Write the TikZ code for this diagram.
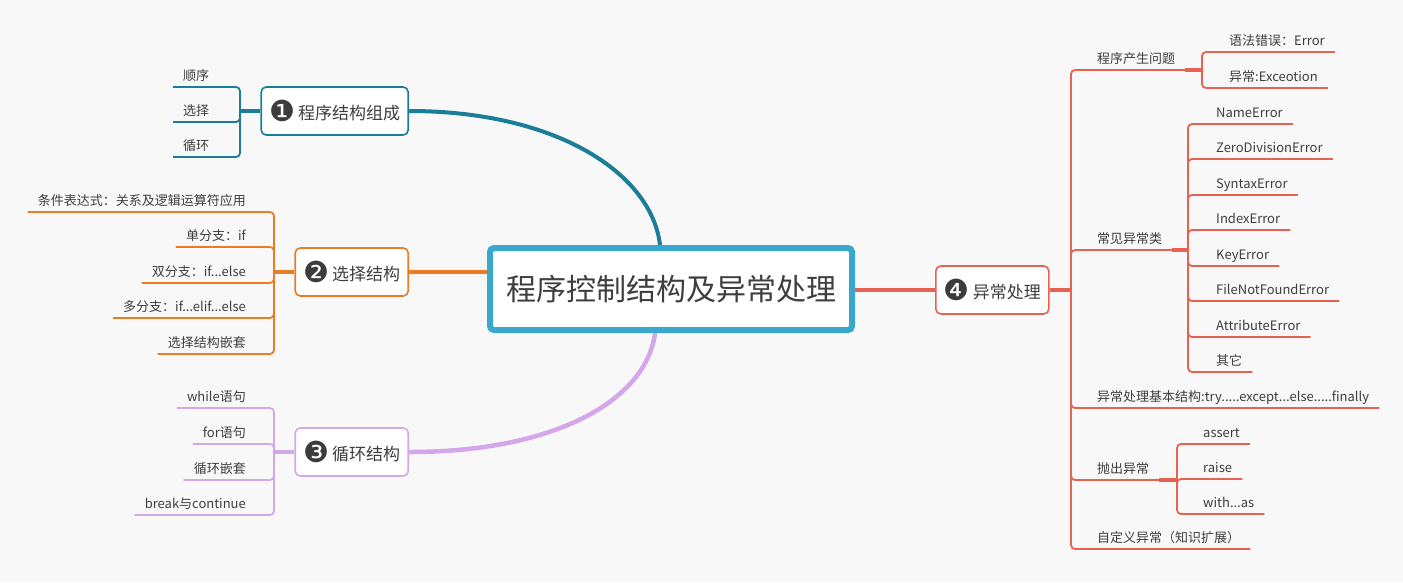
\documentclass[tikz,border=0pt]{standalone}
\usepackage{fontspec}
\setmainfont{Noto Sans CJK SC}
\newfontfamily\numfont{DejaVu Sans}
\usepackage{tikz}
\usetikzlibrary{positioning, backgrounds, calc}
\definecolor{bgGray}{RGB}{248,248,248}
\definecolor{rootBlue}{RGB}{58,168,204}
\definecolor{tealColor}{RGB}{27,126,152}
\definecolor{orangeColor}{RGB}{234,124,36}
\definecolor{purpleColor}{RGB}{212,166,234}
\definecolor{redColor}{RGB}{232,98,82}
\definecolor{textGray}{RGB}{62,62,62}
\definecolor{badgeGray}{RGB}{60,60,60}
\newcommand{\badge}[1]{{\numfont\fontsize{29}{29}\selectfont\textcolor{badgeGray}{\raisebox{-2.5pt}{#1}}}\hspace{3pt}}

\begin{document}
\begin{tikzpicture}[
        x=1pt, y=-1pt,
        root/.style={
            rectangle,
            rounded corners=4pt,
            draw=rootBlue,
            line width=6pt,
            fill=white,
            minimum width=362pt,
            minimum height=82pt,
            font=\fontsize{30}{36}\selectfont,
            text=textGray
        },
        topic/.style={
            rectangle,
            rounded corners=5pt,
            line width=1.6pt,
            fill=white,
            minimum height=48pt,
            inner xsep=8pt,
            font=\fontsize{17}{20}\selectfont,
            text=textGray
        },
        leaf/.style={
            inner xsep=10pt,
            inner ysep=3.5pt,
            text height=10pt,
            text depth=3pt,
            font=\fontsize{13}{15}\selectfont,
            text=textGray
        },
        branch/.style={
            line width=1.8pt,
            rounded corners=4pt
        },
        stem/.style={
            line width=3.5pt
        },
        trunk/.style={
            line width=4.5pt
        }
    ]
    \useasboundingbox (0,0) rectangle (1403,582);
    \begin{pgfonlayer}{background}
        \fill[bgGray] (0,0) rectangle (1403,582);
    \end{pgfonlayer}

    \node[root] (root) at (671,289) {程序控制结构及异常处理};

    \node[topic, draw=tealColor, anchor=east] (t1) at (409,111) {\badge{❶}程序结构组成};
    \node[topic, draw=orangeColor, anchor=east] (t2) at (409,272) {\badge{❷}选择结构};
    \node[topic, draw=purpleColor, anchor=east] (t3) at (409,452) {\badge{❸}循环结构};
    \node[topic, draw=redColor, anchor=west] (t4) at (935,290) {\badge{❹}异常处理};

    % topic 1
    \node[leaf, anchor=south west] (l11) at (173,87) {顺序};
    \node[leaf, anchor=south west] (l12) at (173,122) {选择};
    \node[leaf, anchor=south west] (l13) at (173,157) {循环};

    % topic 2
    \node[leaf, anchor=south east] (l21) at (256,212) {条件表达式：关系及逻辑运算符应用};
    \node[leaf, anchor=south east] (l22) at (256,247) {单分支：if};
    \node[leaf, anchor=south east] (l23) at (256,283) {双分支：if...else};
    \node[leaf, anchor=south east] (l24) at (256,318) {多分支：if...elif...else};
    \node[leaf, anchor=south east] (l25) at (256,354) {选择结构嵌套};

    % topic 3
    \node[leaf, anchor=south east] (l31) at (256,408) {while语句};
    \node[leaf, anchor=south east] (l32) at (256,444) {for语句};
    \node[leaf, anchor=south east] (l33) at (256,480) {循环嵌套};
    \node[leaf, anchor=south east] (l34) at (256,515) {break与continue};

    % topic 4
    \node[leaf, anchor=south west] (c1) at (1087,70) {程序产生问题};
    \node[leaf, anchor=south west] (c2) at (1087,250) {常见异常类};
    \node[leaf, anchor=south west] (c3) at (1087,408) {异常处理基本结构:try.....except...else.....finally};
    \node[leaf, anchor=south west] (c4) at (1087,480) {抛出异常};
    \node[leaf, anchor=south west] (c5) at (1087,549) {自定义异常（知识扩展）};

    \node[leaf, anchor=south west] (g11) at (1219,52) {语法错误：Error};
    \node[leaf, anchor=south west] (g12) at (1219,88) {异常:Exceotion};

    \node[leaf, anchor=south west] (g21) at (1206,124) {NameError};
    \node[leaf, anchor=south west] (g22) at (1206,159) {ZeroDivisionError};
    \node[leaf, anchor=south west] (g23) at (1206,195) {SyntaxError};
    \node[leaf, anchor=south west] (g24) at (1206,230) {IndexError};
    \node[leaf, anchor=south west] (g25) at (1206,266) {KeyError};
    \node[leaf, anchor=south west] (g26) at (1206,301) {FileNotFoundError};
    \node[leaf, anchor=south west] (g27) at (1206,337) {AttributeError};
    \node[leaf, anchor=south west] (g28) at (1206,372) {其它};

    \node[leaf, anchor=south west] (g41) at (1193,444) {assert};
    \node[leaf, anchor=south west] (g42) at (1193,479) {raise};
    \node[leaf, anchor=south west] (g43) at (1193,514) {with...as};

    \coordinate (b1) at (240,111);
    \coordinate (b2) at (274,272);
    \coordinate (b3) at (274,452);
    \coordinate (b4) at (1071,290);
    \coordinate (j1) at (1202,70);
    \coordinate (j2) at (1188,250);
    \coordinate (j4) at (1177,480);

    \begin{pgfonlayer}{background}
        \draw[trunk, tealColor, line width=4pt] (t1.east) .. controls +(150,0) and +(-8,-70) .. ([xshift=-11pt]root.north);
        \draw[trunk, orangeColor] (t2.east) -- (t2.east -| root.west);
        \draw[trunk, purpleColor] (t3.east) .. controls +(150,0) and +(-8,65) .. ([xshift=-16pt]root.south);
        \draw[trunk, redColor, line width=4pt] (root.east |- t4.west) -- (t4.west);

        \draw[stem, tealColor] (t1.west) -- (b1);
        \foreach \n in {l11,l12,l13}
            \draw[branch, tealColor] (b1) |- (\n.south west);

        \draw[stem, orangeColor] (t2.west) -- (b2);
        \foreach \n in {l21,l22,l23,l24,l25}
            \draw[branch, orangeColor] (b2) |- (\n.south west);

        \draw[stem, purpleColor] (t3.west) -- (b3);
        \foreach \n in {l31,l32,l33,l34}
            \draw[branch, purpleColor] (b3) |- (\n.south west);

        \draw[stem, redColor] (t4.east) -- (b4);
        \foreach \n in {c1,c2,c3,c4,c5}
            \draw[branch, redColor] (b4) |- (\n.south east);

        \draw[stem, redColor] (c1.south east) -- (j1);
        \foreach \n in {g11,g12}
            \draw[branch, redColor] (j1) |- (\n.south east);

        \draw[stem, redColor] (c2.south east) -- (j2);
        \foreach \n in {g21,g22,g23,g24,g25,g26,g27,g28}
            \draw[branch, redColor] (j2) |- (\n.south east);

        \draw[stem, redColor] (c4.south east) -- (j4);
        \foreach \n in {g41,g42,g43}
            \draw[branch, redColor] (j4) |- (\n.south east);
    \end{pgfonlayer}

\end{tikzpicture}
\end{document}
